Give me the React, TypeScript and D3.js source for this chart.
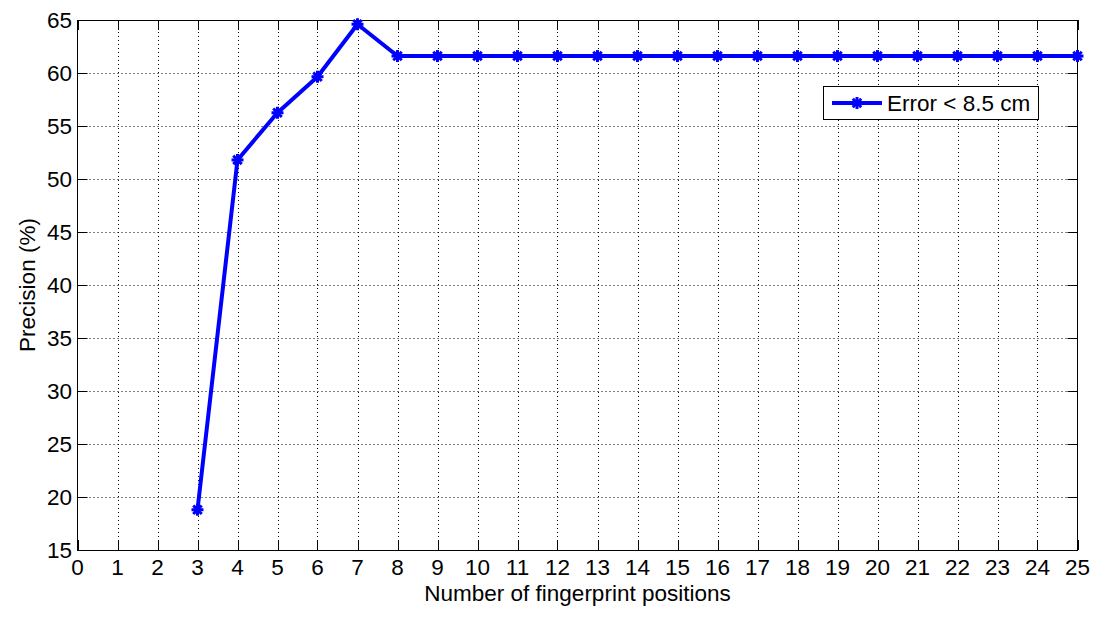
import React from "react";
import * as d3 from "d3";

const xValues = [3, 4, 5, 6, 7, 8, 9, 10, 11, 12, 13, 14, 15, 16, 17, 18, 19, 20, 21, 22, 23, 24, 25];
const precision = [18.8, 51.8, 56.25, 59.65, 64.6, 61.6, 61.6, 61.6, 61.6, 61.6, 61.6, 61.6, 61.6, 61.6, 61.6, 61.6, 61.6, 61.6, 61.6, 61.6, 61.6, 61.6, 61.6];
const xTicks = d3.range(0, 26);
const yTicks = [15, 20, 25, 30, 35, 40, 45, 50, 55, 60, 65];
const seriesName = "Error < 8.5 cm";

const W = 1109, H = 622;
const L = 77.5, R = 1077.5, T = 20, B = 550;
const font = "Arial, 'Liberation Sans', sans-serif";
const fs = 22.5;

function Star({ cx, cy, s }: { cx: number; cy: number; s: number }) {
  const d = s * 0.707;
  return (
    <g stroke="#0000ff" strokeWidth={3} strokeLinecap="square">
      <line x1={cx - s} y1={cy} x2={cx + s} y2={cy} />
      <line x1={cx} y1={cy - s} x2={cx} y2={cy + s} />
      <line x1={cx - d} y1={cy - d} x2={cx + d} y2={cy + d} />
      <line x1={cx - d} y1={cy + d} x2={cx + d} y2={cy - d} />
    </g>
  );
}

export default function App() {
  const x = d3.scaleLinear().domain([0, 25]).range([L, R]);
  const y = d3.scaleLinear().domain([15, 65]).range([B, T]);
  const pts = xValues.map((v, i) => [x(v), y(precision[i])] as [number, number]);
  const line = d3.line()(pts) || "";
  const tl = 10;
  return (
    <svg width={W} height={H} style={{ position: "absolute", left: 0, top: 0, background: "#fff" }}>
      <rect x={0} y={0} width={W} height={H} fill="#fff" />
      <g stroke="#000" strokeWidth={1} strokeDasharray="1,3">
        {xTicks.slice(1, -1).map((t) => (
          <line key={"gx" + t} x1={Math.round(x(t)) + 0.5} x2={Math.round(x(t)) + 0.5} y1={T} y2={B} />
        ))}
        {yTicks.slice(1, -1).map((t) => (
          <line key={"gy" + t} x1={L} x2={R} y1={Math.round(y(t)) + 0.5} y2={Math.round(y(t)) + 0.5} />
        ))}
      </g>
      <g stroke="#000" strokeWidth={1}>
        {xTicks.map((t) => {
          const px = Math.round(x(t)) + 0.5;
          return (
            <g key={"tx" + t}>
              <line x1={px} x2={px} y1={B} y2={B - tl} />
              <line x1={px} x2={px} y1={T} y2={T + tl} />
            </g>
          );
        })}
        {yTicks.map((t) => {
          const py = Math.round(y(t)) + 0.5;
          return (
            <g key={"ty" + t}>
              <line x1={L} x2={L + tl} y1={py} y2={py} />
              <line x1={R} x2={R - tl} y1={py} y2={py} />
            </g>
          );
        })}
      </g>
      <rect x={L} y={T + 0.5} width={R - L} height={B - T} fill="none" stroke="#000" strokeWidth={1} />
      <g fontFamily={font} fontSize={fs} fill="#000">
        {xTicks.map((t) => (
          <text key={"lx" + t} x={x(t)} y={575} textAnchor="middle">{t}</text>
        ))}
        {yTicks.map((t) => (
          <text key={"ly" + t} x={72} y={y(t) + 8} textAnchor="end">{t}</text>
        ))}
      </g>
      <text x={(L + R) / 2} y={601} textAnchor="middle" fontFamily={font} fontSize={fs}>Number of fingerprint positions</text>
      <text transform={`translate(35,${(T + B) / 2}) rotate(-90)`} textAnchor="middle" fontFamily={font} fontSize={fs}>Precision (%)</text>
      <path d={line} fill="none" stroke="#0000ff" strokeWidth={4} strokeLinejoin="round" />
      {pts.map((p, i) => (
        <Star key={"m" + i} cx={p[0]} cy={p[1]} s={4.5} />
      ))}
      <rect x={823.5} y={86.5} width={215} height={33} fill="#fff" stroke="#000" strokeWidth={1} />
      <line x1={832} x2={882} y1={103} y2={103} stroke="#0000ff" strokeWidth={4} />
      <Star cx={857} cy={103} s={4.5} />
      <text x={887} y={111} fontFamily={font} fontSize={fs}>{seriesName}</text>
    </svg>
  );
}
